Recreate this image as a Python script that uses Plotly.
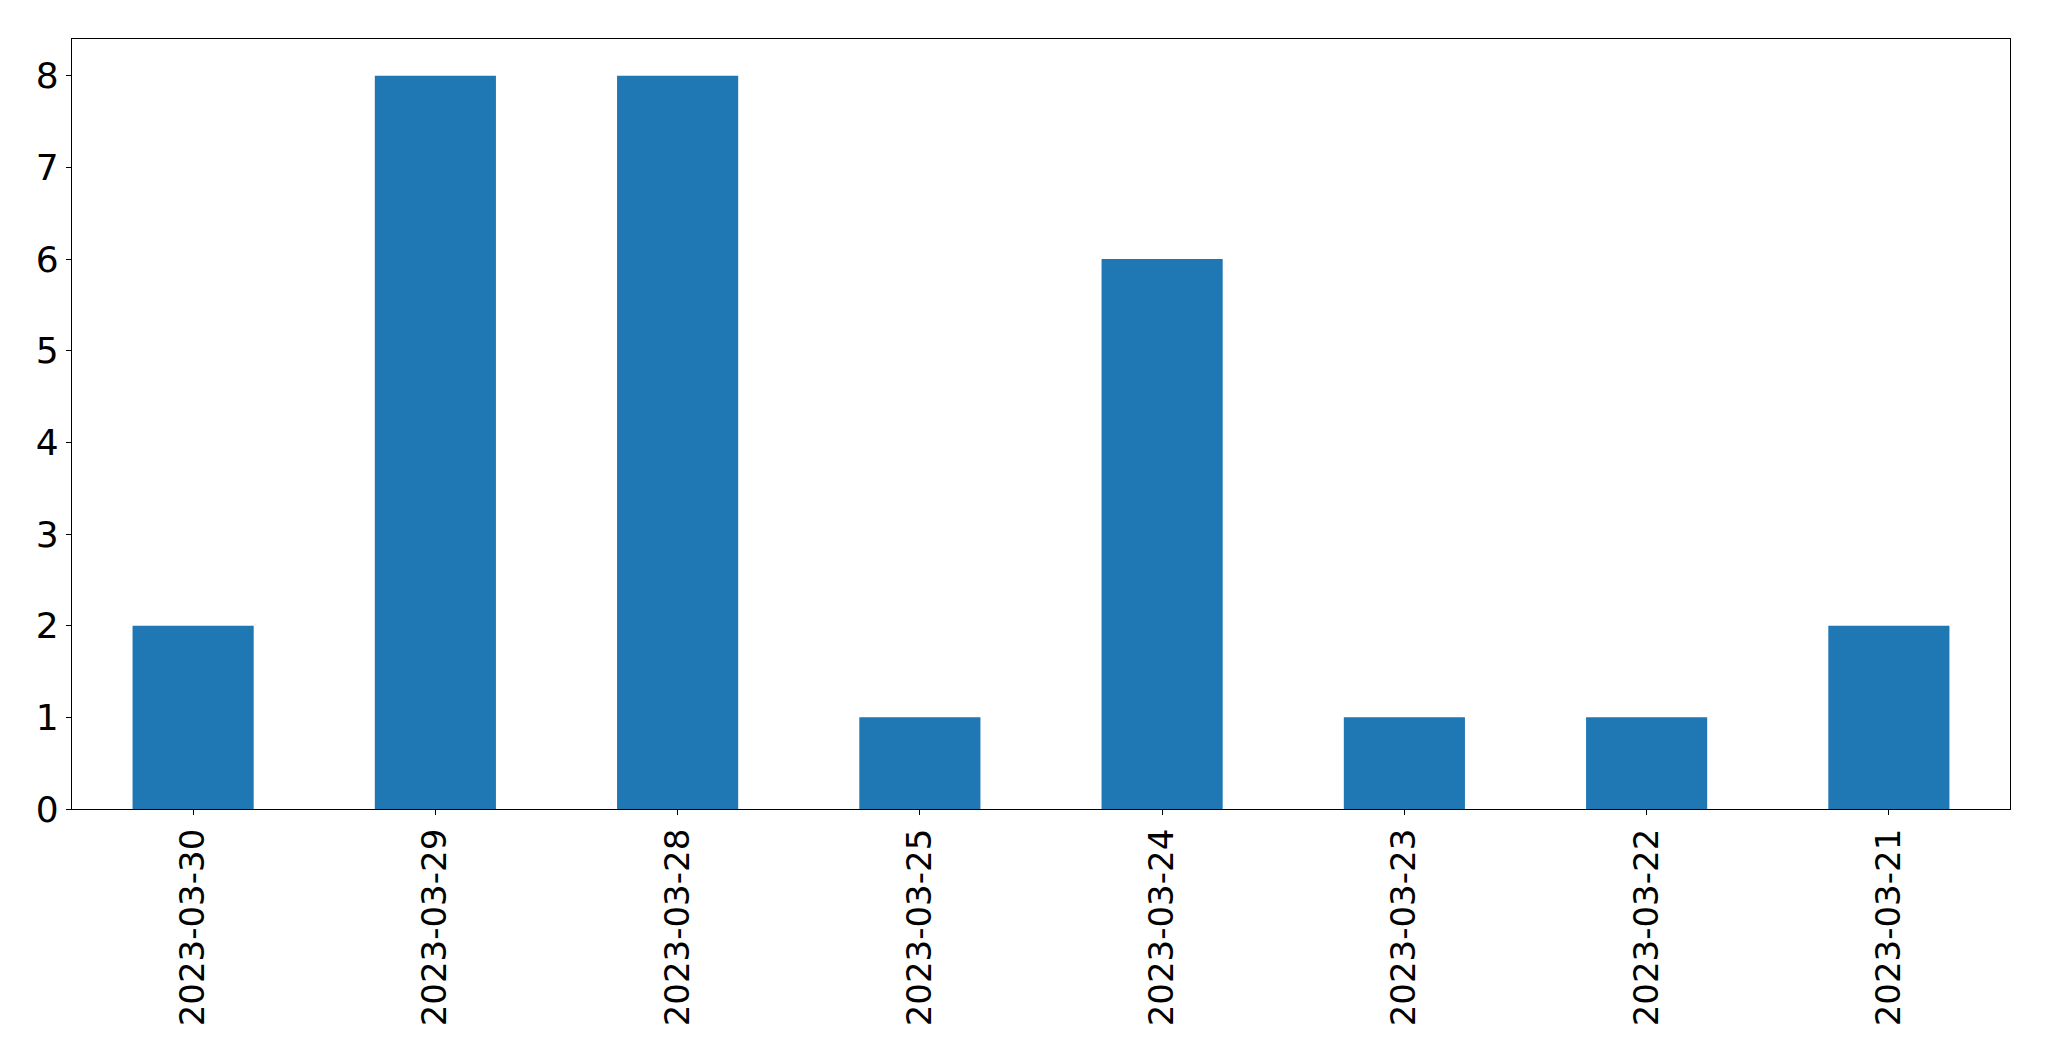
import plotly.graph_objects as go

dates = ["2023-03-30", "2023-03-29", "2023-03-28", "2023-03-25",
         "2023-03-24", "2023-03-23", "2023-03-22", "2023-03-21"]
counts = [2, 8, 8, 1, 6, 1, 1, 2]
y_ticks = [0, 1, 2, 3, 4, 5, 6, 7, 8]

fig = go.Figure(go.Bar(x=list(range(len(dates))), y=counts, width=0.5,
                       marker=dict(color="#1f77b4", line=dict(width=0))))

xfont = dict(family="DejaVu Sans", size=34, color="black")
yfont = dict(family="DejaVu Sans", size=36, color="black")
fig.update_layout(
    width=2041, height=1053,
    margin=dict(l=64, r=39, t=31, b=252, autoexpand=False),
    paper_bgcolor="white", plot_bgcolor="white",
    showlegend=False,
    xaxis=dict(range=[-0.5, len(dates) - 0.5], tickmode="array",
               tickvals=list(range(len(dates))), ticktext=dates,
               tickangle=-90, ticks="outside", ticklen=5, tickcolor="black",
               showline=True, linecolor="black", linewidth=1.3, mirror=True,
               showgrid=False, zeroline=False, tickfont=xfont),
    yaxis=dict(range=[0, 8.4], tickmode="array", tickvals=y_ticks,
               ticks="outside", ticklen=5, tickcolor="black",
               showline=True, linecolor="black", linewidth=1.3, mirror=True,
               showgrid=False, zeroline=False, tickfont=yfont),
)
fig.write_html("out.html")
